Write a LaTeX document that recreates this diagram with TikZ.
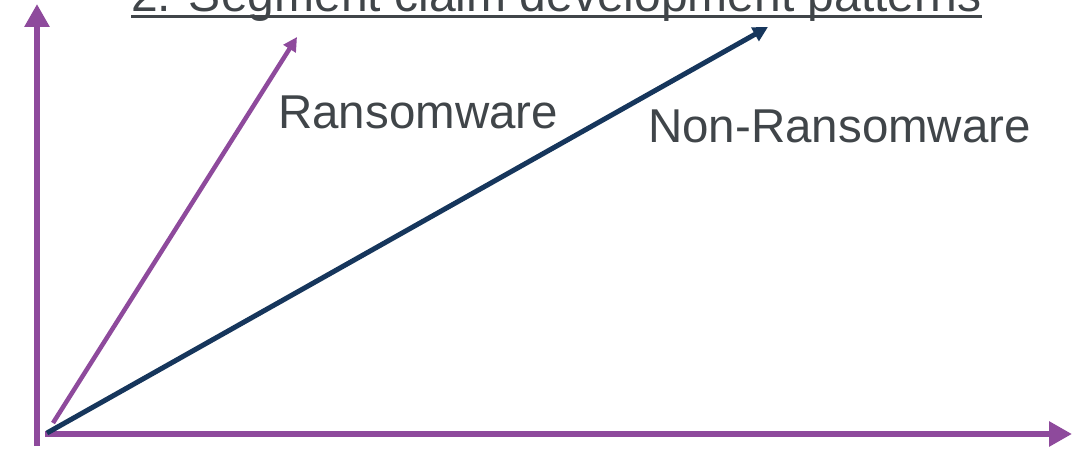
\documentclass[tikz,border=0pt]{standalone}
\usepackage{fontspec}
\setmainfont{Liberation Sans}
\usetikzlibrary{arrows.meta}
\definecolor{axispurple}{RGB}{142,74,156}
\definecolor{navyline}{RGB}{22,54,92}
\definecolor{textgray}{RGB}{64,69,73}
\tikzset{font=\fontsize{47.5}{52}\selectfont}
\tikzset{every node/.append style={text=textgray, inner sep=0pt}}
\tikzset{axisline/.style={axispurple, line width=6pt, -{Triangle[length=23pt,width=24pt]}}}

\begin{document}
\begin{tikzpicture}[x=1pt,y=1pt]
  \useasboundingbox (0,0) rectangle (1084,454);
  \clip (0,0) rectangle (1084,454);

  \coordinate (ybot) at (37,8);
  \coordinate (ytop) at (37,450);
  \coordinate (xleft) at (45,20);
  \coordinate (xright) at (1072,20);
  \coordinate (rstart) at (53,31);
  \coordinate (rtip) at (297,417);
  \coordinate (nstart) at (47,21);
  \coordinate (ntip) at (768,427);

  % axes
  \draw[axisline] (ybot) -- (ytop);
  \draw[axisline] (xleft) -- (xright);

  % segments
  \draw[axispurple, line width=4.5pt, -{Triangle[length=14pt,width=14pt]}] (rstart) -- (rtip);
  \draw[navyline, line width=5pt, -{Triangle[length=15pt,width=15pt]}] (nstart) -- (ntip);

  \node[anchor=base west, font=\fontsize{48}{52}\selectfont] (title) at (131,442) {2. Segment claim development patterns};
  \draw[textgray, line width=3pt] ([yshift=-4.5pt]title.base west) -- ([yshift=-4.5pt]title.base east);

  \node[anchor=base west] (ransom) at (278,325) {Ransomware};
  \node[anchor=base west] (nonransom) at (648,311) {Non-Ransomware};
\end{tikzpicture}
\end{document}
